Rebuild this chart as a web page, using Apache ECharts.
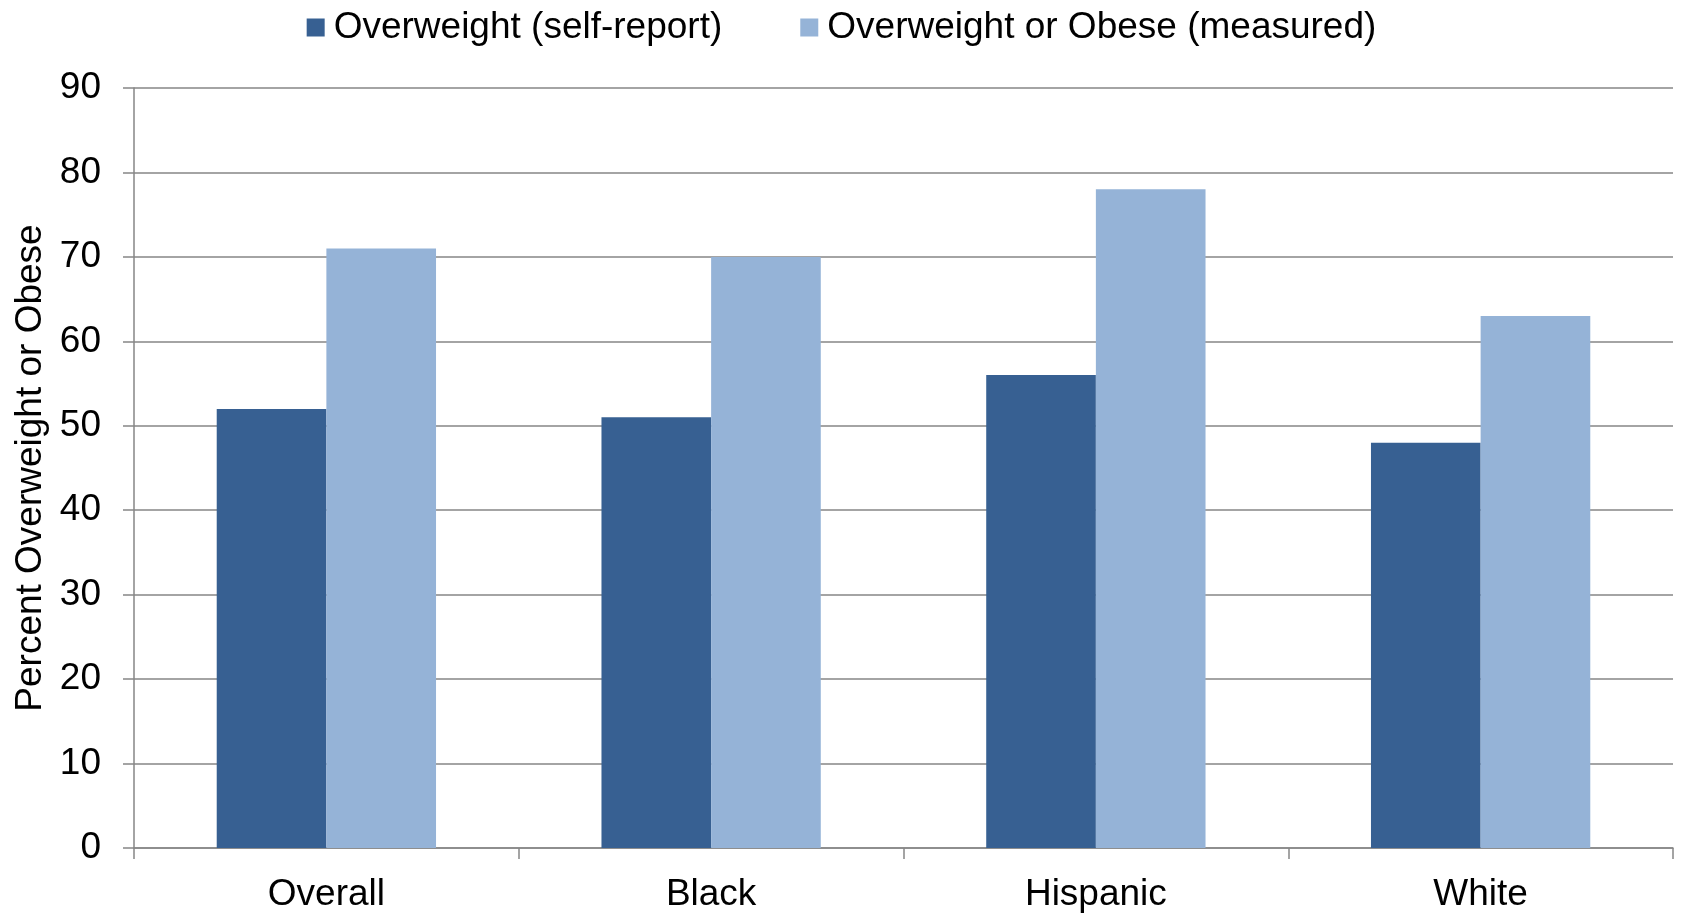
<!DOCTYPE html>
<html>
<head>
<meta charset="utf-8">
<script src="https://cdn.jsdelivr.net/npm/echarts@6/dist/echarts.min.js"></script>
<style>
  html, body { margin: 0; padding: 0; background: #ffffff; }
  #chart { width: 1683px; height: 913px; }
</style>
</head>
<body>
<div id="chart"></div>
<script>
// Groups along the x axis
const categories = ['Overall', 'Black', 'Hispanic', 'White'];

// Percent overweight, by how weight was obtained
const selfReport = [52, 51, 56, 48];
const measured = [71, 70, 78, 63];

const seriesNames = ['Overweight (self-report)', 'Overweight or Obese (measured)'];
const yAxisTitle = 'Percent Overweight or Obese';

const FONT = '"Liberation Sans", Arial, sans-serif';
const AXIS_GREY = '#868686';

const chart = echarts.init(document.getElementById('chart'), null, { renderer: 'canvas' });

chart.setOption({
  animation: false,
  backgroundColor: '#ffffff',
  textStyle: { fontFamily: FONT, color: '#000000' },
  legend: {
    top: 4,
    left: 'center',
    itemWidth: 18,
    itemHeight: 18,
    itemGap: 78,
    icon: 'rect',
    textStyle: { fontFamily: FONT, fontSize: 37, color: '#000000', padding: [0, 0, 0, 4] },
    data: seriesNames
  },
  grid: {
    left: 134,
    right: 10,
    top: 88,
    bottom: 65,
    containLabel: false
  },
  xAxis: {
    type: 'category',
    data: categories,
    axisLine: { show: true, lineStyle: { color: AXIS_GREY, width: 1.5 } },
    axisTick: { show: true, length: 11, lineStyle: { color: AXIS_GREY, width: 1.5 } },
    axisLabel: { fontFamily: FONT, fontSize: 37, color: '#000000', margin: 28 },
    splitLine: { show: false }
  },
  yAxis: {
    type: 'value',
    min: 0,
    max: 90,
    interval: 10,
    name: yAxisTitle,
    nameLocation: 'middle',
    nameGap: 84,
    nameRotate: 90,
    nameTextStyle: { fontFamily: FONT, fontSize: 37, color: '#000000' },
    axisLine: { show: true, lineStyle: { color: AXIS_GREY, width: 1.5 } },
    axisTick: { show: true, length: 11, lineStyle: { color: AXIS_GREY, width: 1.5 } },
    axisLabel: { fontFamily: FONT, fontSize: 37, color: '#000000', margin: 33 },
    splitLine: { show: true, lineStyle: { color: AXIS_GREY, width: 1.5 } }
  },
  series: [
    {
      name: seriesNames[0],
      type: 'bar',
      data: selfReport,
      barGap: '0%',
      barCategoryGap: '43%',
      itemStyle: { color: '#376092' }
    },
    {
      name: seriesNames[1],
      type: 'bar',
      data: measured,
      barGap: '0%',
      barCategoryGap: '43%',
      itemStyle: { color: '#95b3d7' }
    }
  ]
});
</script>
</body>
</html>
